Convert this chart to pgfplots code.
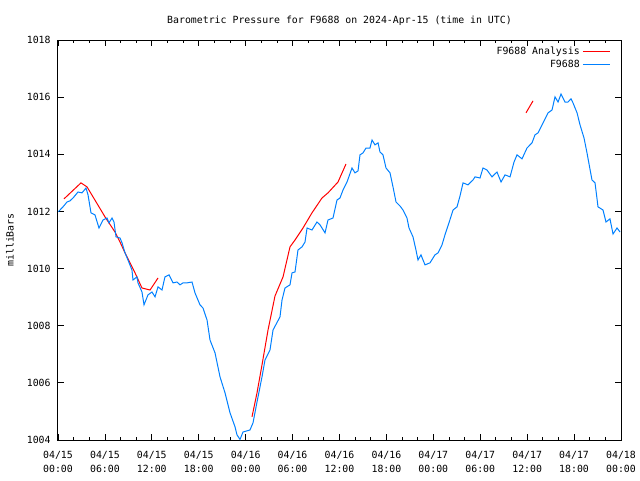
\documentclass[border=0pt]{standalone}
\usepackage{fontspec}
\setmainfont{DejaVu Sans Mono}
\usepackage{pgfplots}
\pgfplotsset{compat=1.18}
\definecolor{gblue}{RGB}{0,128,255}
\definecolor{gred}{RGB}{255,0,0}
\begin{document}
\begin{tikzpicture}
\begin{axis}[
  at={(0,0)}, anchor=south west,
  scale only axis, width=422.25pt, height=300pt,
  xmin=0, xmax=72, ymin=1004, ymax=1018,
  axis line style={line width=0.75pt},
  every tick/.style={black, line width=0.6pt},
  major tick length=4.5pt, minor tick length=2.5pt,
  tick align=inside, xtick pos=both, ytick pos=both,
  xtick={0,6,...,72},
  xticklabels={{04/15\\00:00},{04/15\\06:00},{04/15\\12:00},{04/15\\18:00},{04/16\\00:00},{04/16\\06:00},{04/16\\12:00},{04/16\\18:00},{04/17\\00:00},{04/17\\06:00},{04/17\\12:00},{04/17\\18:00},{04/18\\00:00}},
  minor x tick num=2,
  ytick={1004,1006,...,1018},
  /pgf/number format/assume math mode=true,
  /pgf/number format/1000 sep={},
  tick label style={font=\fontsize{7.4}{10.5}\selectfont},
  xticklabel style={align=center, yshift=-5pt},
  yticklabel style={xshift=-2pt},
  ylabel={milliBars},
  ylabel style={font=\fontsize{7.4}{9}\selectfont, yshift=3pt},
  title={Barometric Pressure for F9688 on 2024-Apr-15 (time in UTC)},
  title style={font=\fontsize{7.4}{9}\selectfont, at={(0.5,1)}, anchor=south, yshift=1.5pt},
  legend style={draw=none, fill=none, at={(1,1)}, anchor=north east, xshift=-7pt, yshift=-2pt,
    font=\fontsize{7.4}{9}\selectfont, row sep=-1.5pt, inner sep=1pt},
  legend cell align=right, legend plot pos=right,
  legend image code/.code={\draw[#1] (0pt,0pt) -- (20pt,0pt);},
]
\addplot[gred, line width=0.75pt] table {
x y
0.77 1012.44
2.94 1013.00
3.71 1012.86
4.48 1012.51
6.01 1011.81
7.29 1011.28
7.93 1010.93
8.57 1010.55
9.85 1009.85
10.74 1009.32
11.77 1009.25
12.79 1009.67
};
\addlegendentry{F9688 Analysis}
\addplot[gred, line width=0.75pt, forget plot] table {
x y
24.81 1004.81
25.45 1005.65
26.09 1006.63
26.86 1007.85
27.75 1009.04
28.78 1009.71
29.67 1010.76
30.31 1011.00
31.33 1011.42
32.48 1011.95
33.76 1012.47
34.53 1012.65
35.81 1013.03
36.83 1013.66
};
\addplot[gred, line width=0.75pt, forget plot] table {
x y
59.85 1015.45
60.75 1015.87
};
\addplot[gblue, line width=0.75pt] table {
x y
0.04 1011.99
0.64 1012.16
1.15 1012.33
1.53 1012.37
1.92 1012.47
2.56 1012.68
3.07 1012.65
3.58 1012.82
3.84 1012.58
4.22 1011.95
4.73 1011.88
5.24 1011.42
5.76 1011.70
6.27 1011.77
6.52 1011.60
6.91 1011.77
7.16 1011.63
7.42 1011.11
7.93 1011.07
8.19 1010.90
8.57 1010.55
8.95 1010.30
9.46 1009.95
9.59 1009.60
10.10 1009.71
10.23 1009.50
10.74 1009.18
11.00 1008.73
11.51 1009.08
12.02 1009.18
12.41 1009.01
12.79 1009.36
13.30 1009.25
13.68 1009.71
14.20 1009.78
14.71 1009.50
15.22 1009.53
15.60 1009.43
15.99 1009.50
16.50 1009.50
17.14 1009.53
17.52 1009.15
18.16 1008.73
18.54 1008.62
19.06 1008.20
19.44 1007.50
20.08 1007.05
20.72 1006.21
21.36 1005.65
22.00 1004.95
22.64 1004.46
22.89 1004.18
23.28 1004.02
23.66 1004.28
24.55 1004.35
24.94 1004.60
25.45 1005.33
26.09 1006.21
26.47 1006.80
27.11 1007.15
27.50 1007.85
28.39 1008.31
28.65 1008.90
29.03 1009.32
29.67 1009.43
29.93 1009.85
30.31 1009.88
30.69 1010.65
31.21 1010.76
31.59 1010.93
31.85 1011.42
32.48 1011.35
33.12 1011.63
33.51 1011.53
34.15 1011.25
34.53 1011.70
35.17 1011.77
35.68 1012.40
36.06 1012.47
36.45 1012.75
36.96 1013.03
37.60 1013.52
37.98 1013.35
38.37 1013.42
38.62 1013.98
39.01 1014.05
39.39 1014.22
39.90 1014.22
40.16 1014.50
40.54 1014.33
40.93 1014.40
41.18 1014.08
41.56 1013.98
41.95 1013.52
42.46 1013.35
42.84 1012.86
43.23 1012.33
43.74 1012.19
44.12 1012.05
44.63 1011.77
44.89 1011.42
45.40 1011.11
45.78 1010.65
46.04 1010.30
46.42 1010.48
46.68 1010.30
46.94 1010.13
47.57 1010.20
48.21 1010.48
48.60 1010.55
49.11 1010.83
49.49 1011.18
50.00 1011.60
50.52 1012.05
51.03 1012.16
51.41 1012.54
51.80 1013.00
52.43 1012.93
53.07 1013.10
53.33 1013.21
53.97 1013.17
54.35 1013.52
54.86 1013.45
55.50 1013.21
56.14 1013.38
56.66 1013.03
57.17 1013.28
57.81 1013.21
58.32 1013.73
58.70 1013.98
59.34 1013.84
59.98 1014.22
60.62 1014.40
61.00 1014.68
61.39 1014.75
62.03 1015.10
62.67 1015.45
63.18 1015.55
63.56 1016.01
63.95 1015.83
64.33 1016.11
64.84 1015.83
65.22 1015.83
65.61 1015.94
65.86 1015.80
66.38 1015.45
66.76 1015.03
67.27 1014.57
67.65 1014.05
68.29 1013.10
68.68 1013.00
69.06 1012.16
69.70 1012.05
70.08 1011.63
70.59 1011.74
70.98 1011.21
71.49 1011.42
71.88 1011.28
};
\addlegendentry{F9688}
\end{axis}
\pgfresetboundingbox
\path[use as bounding box] (-43.5pt,-30pt) rectangle (436.5pt,330pt);
\end{tikzpicture}
\end{document}
